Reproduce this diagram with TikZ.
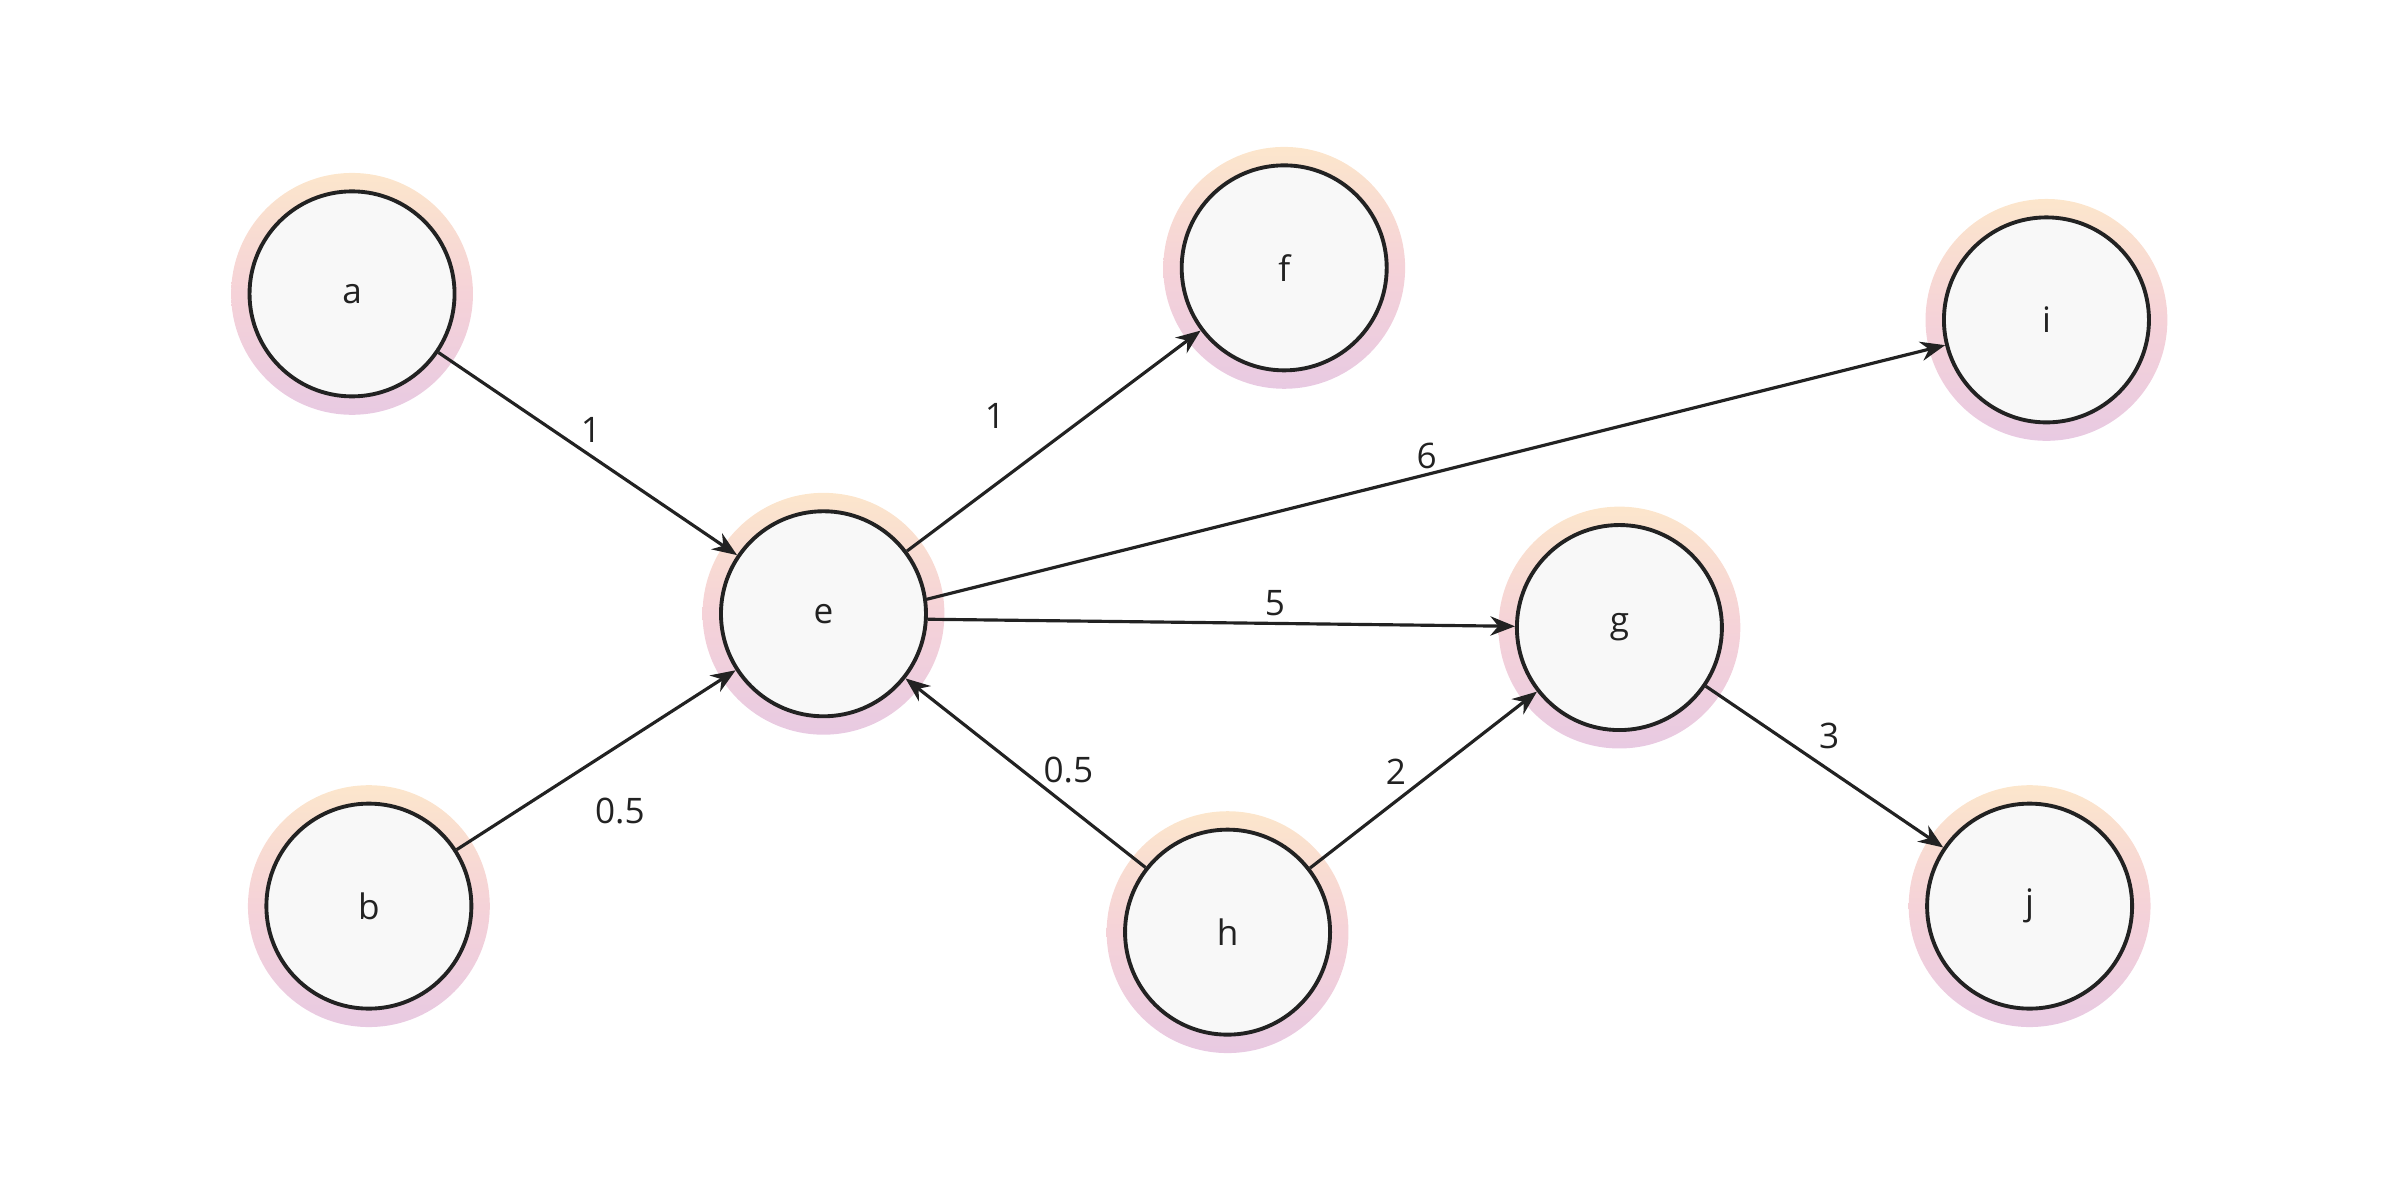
\documentclass[tikz,border=0pt]{standalone}
\usepackage{fontspec}
\setmainfont{Open Sans}
\usetikzlibrary{arrows.meta}
\definecolor{glowA}{HTML}{FCE6CC}
\definecolor{glowB}{HTML}{F5D2D8}
\definecolor{glowC}{HTML}{E8CAE2}
\definecolor{inner}{HTML}{F8F8F8}
\definecolor{ink}{HTML}{222222}
\tikzset{
  vert/.style={circle,draw=ink,line width=1.1pt,fill=inner,minimum size=2.05cm,inner sep=0pt,font=\fontsize{10}{12}\selectfont,text=ink},
  glow/.style={left color=glowA,right color=glowC,middle color=glowB,shading angle=0},
  edge/.style={draw=ink,line width=0.9pt,-{Stealth[length=7pt,width=5.5pt]}},
  wlab/.style={font=\fontsize{10}{12}\selectfont,text=ink}
}
\begin{document}
\begin{tikzpicture}[x=0.01531cm,y=-0.01531cm]
\useasboundingbox (0,0) rectangle (1568,784);
\foreach \n/\x/\y in {a/230/192,f/839/175,i/1337/209,e/538/401,g/1058/410,b/241/592,h/802/609,j/1326/592}{
  \shade[glow] (\x,\y) circle (79);
  \node[vert] (\n) at (\x,\y) {\n};
}
\draw[edge] (a) -- (e);
\draw[edge] (e) -- (f);
\draw[edge] (e.8) -- (i);
\draw[edge] (e.-3) -- (g);
\draw[edge] (b) -- (e);
\draw[edge] (h) -- (e);
\draw[edge] (h) -- (g);
\draw[edge] (g) -- (j);
\node[wlab] (l1) at (386,281) {1};
\node[wlab] (l2) at (650,272) {1};
\node[wlab] (l3) at (932,298) {6};
\node[wlab] (l4) at (833,394) {5};
\node[wlab] (l5) at (405,530) {0.5};
\node[wlab] (l6) at (698,503) {0.5};
\node[wlab] (l7) at (912,504) {2};
\node[wlab] (l8) at (1195,481) {3};
\end{tikzpicture}
\end{document}
